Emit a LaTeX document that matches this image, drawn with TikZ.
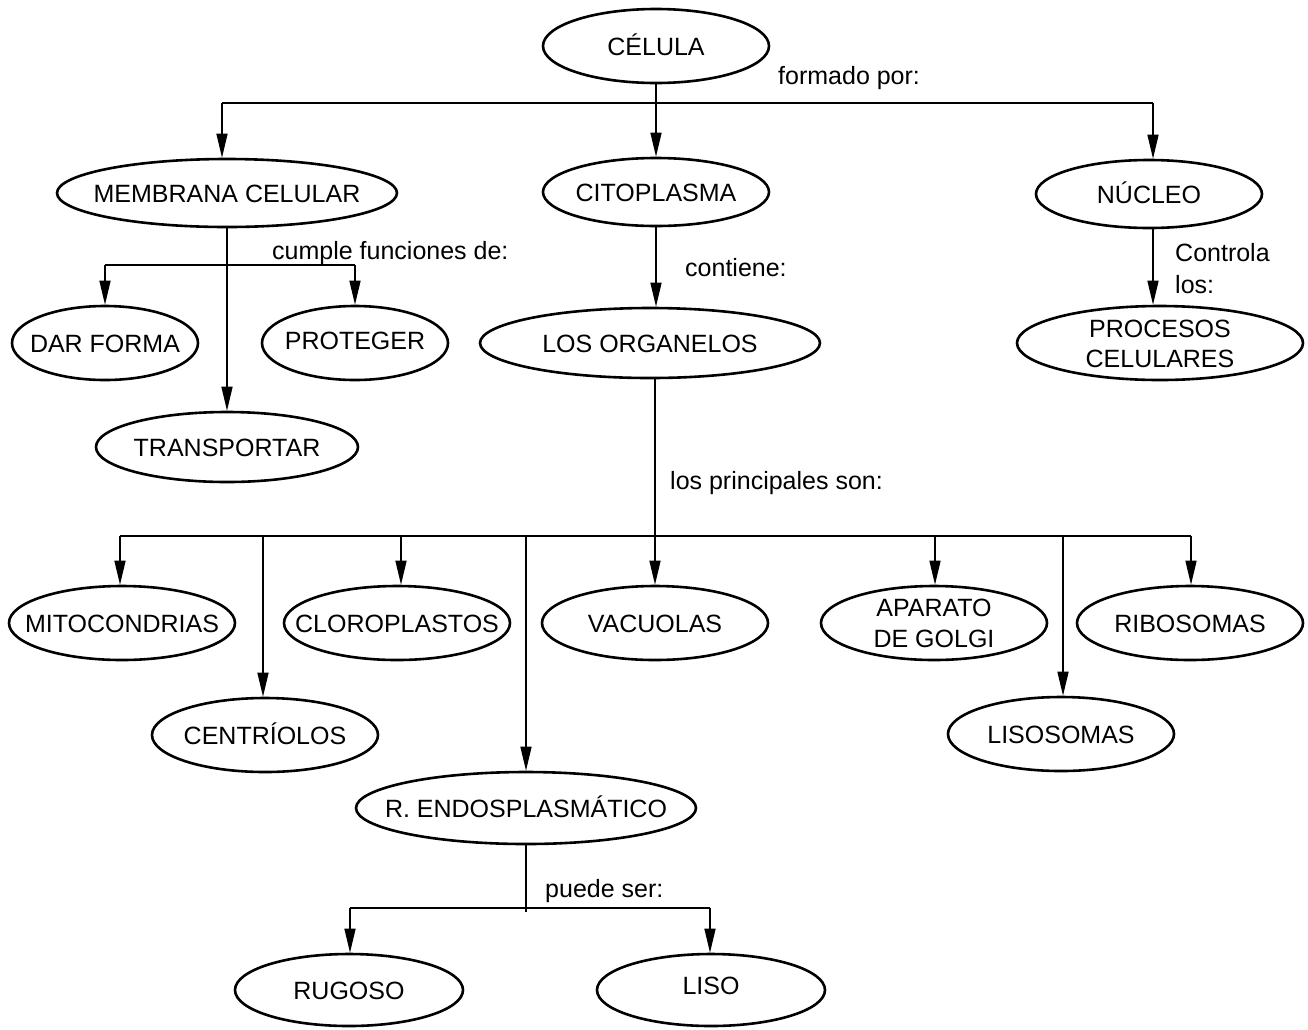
\documentclass[tikz,border=0pt]{standalone}
\usepackage{fontspec}
\setmainfont{Liberation Sans}
\usetikzlibrary{shapes.geometric,arrows.meta}
\begin{document}
\begin{tikzpicture}[x=1pt,y=-1pt,
  font=\fontsize{25}{31}\selectfont,
  oval/.style={draw, ellipse, line width=2.6pt, inner sep=0pt,
               minimum width=226pt, minimum height=74pt},
  link/.style={line width=1.4pt},
  arr/.style={link, -{Triangle[length=24pt,width=11pt]}},
  note/.style={anchor=base west, inner sep=0pt},
  every label/.style={text height=18pt, text depth=0pt, inner sep=0pt}]
\useasboundingbox (0,0) rectangle (1308,1029);

% concept ovals
\node[oval, minimum height=74pt] (cel) at (656,46) [label=center:{CÉLULA}] {};
\node[oval, minimum width=340pt, minimum height=68pt] (mem) at (227,193) [label=center:{MEMBRANA CELULAR}] {};
\node[oval, minimum height=68pt] (cit) at (656,192) [label=center:{CITOPLASMA}] {};
\node[oval, minimum height=68pt] (nuc) at (1149,194) [label=center:{NÚCLEO}] {};

\node[oval, minimum width=186pt] (dar) at (105,343) [label=center:{DAR FORMA}] {};
\node[oval, minimum width=186pt] (pro) at (355,343) [label={[yshift=3pt]center:{PROTEGER}}] {};
\node[oval, minimum width=262pt, minimum height=70pt] (tra) at (227,447) [label=center:{TRANSPORTAR}] {};
\node[oval, minimum width=340pt, minimum height=70pt] (org) at (650,343) [label=center:{LOS ORGANELOS}] {};
\node[oval, minimum width=286pt] (proc) at (1160,343)
  [label={[yshift=15pt]center:{PROCESOS}}, label={[yshift=-15pt]center:{CELULARES}}] {};

\node[oval] (mit) at (122,623) [label=center:{MITOCONDRIAS}] {};
\node[oval] (cen) at (265,735) [label=center:{CENTRÍOLOS}] {};
\node[oval] (clo) at (397,623) [label=center:{CLOROPLASTOS}] {};
\node[oval] (vac) at (655,623) [label=center:{VACUOLAS}] {};
\node[oval, minimum width=340pt, minimum height=72pt] (ret) at (526,808) [label=center:{R. ENDOSPLASMÁTICO}] {};
\node[oval] (apa) at (934,623)
  [label={[yshift=16pt]center:{APARATO}}, label={[yshift=-15pt]center:{DE GOLGI}}] {};
\node[oval] (lis) at (1061,734) [label=center:{LISOSOMAS}] {};
\node[oval] (rib) at (1190,623) [label=center:{RIBOSOMAS}] {};

\node[oval, minimum width=228pt, minimum height=72pt] (rug) at (349,990) [label=center:{RUGOSO}] {};
\node[oval, minimum width=228pt, minimum height=72pt] (liso) at (711,990) [label={[yshift=5pt]center:{LISO}}] {};

% CÉLULA branches
\coordinate (j0) at (656,103);
\coordinate (j0L) at (222,103);
\coordinate (j0R) at (1153,103);
\draw[link] (cel.south) -- (j0);
\draw[link] (j0L) -- (j0R);
\draw[arr] (j0L) -- (j0L |- mem.north);
\draw[arr] (j0) -- (cit.north);
\draw[arr] (j0R) -- (j0R |- nuc.north);
\node[note] (t0) at (778,84) {formado por:};

% membrane functions
\coordinate (j1L) at (105,265);
\coordinate (j1R) at (355,265);
\draw[link] (j1L) -- (j1R);
\draw[arr] (j1L) -- (dar.north);
\draw[arr] (j1R) -- (pro.north);
\draw[arr] (mem.south) -- (tra.north);
\node[note] (t1) at (272,259) {cumple funciones de:};

% cytoplasm
\draw[arr] (cit.south) -- (cit.south |- org.north);
\node[note] (t2) at (685,276) {contiene:};

% nucleus
\draw[arr] (nuc.south -| j0R) -- (j0R |- proc.north);
\node[note] (t3) at (1175,261) {Controla};
\node[note] (t4) at (1175,293) {los:};

% organelles
\coordinate (j2) at (655,536);
\coordinate (d1) at (120,536);
\coordinate (d2) at (263,536);
\coordinate (d3) at (401,536);
\coordinate (d4) at (526,536);
\coordinate (d6) at (935,536);
\coordinate (d7) at (1063,536);
\coordinate (d8) at (1191,536);
\draw[link] (j2 |- org.south) -- (j2);
\draw[link] (d1) -- (d8);
\draw[arr] (d1) -- (d1 |- mit.north);
\draw[arr] (d2) -- (d2 |- cen.north);
\draw[arr] (d3) -- (d3 |- clo.north);
\draw[arr] (d4) -- (ret.north);
\draw[arr] (j2) -- (vac.north);
\draw[arr] (d6) -- (d6 |- apa.north);
\draw[arr] (d7) -- (d7 |- lis.north);
\draw[arr] (d8) -- (d8 |- rib.north);
\node[note] (t5) at (670,489) {los principales son:};

% reticulum types
\coordinate (j3) at (526,912);
\coordinate (j3L) at (350,908);
\coordinate (j3R) at (710,908);
\draw[link] (ret.south) -- (j3);
\draw[link] (j3L) -- (j3R);
\draw[arr] (j3L) -- (j3L |- rug.north);
\draw[arr] (j3R) -- (j3R |- liso.north);
\node[note] (t6) at (545,897) {puede ser:};
\end{tikzpicture}
\end{document}
